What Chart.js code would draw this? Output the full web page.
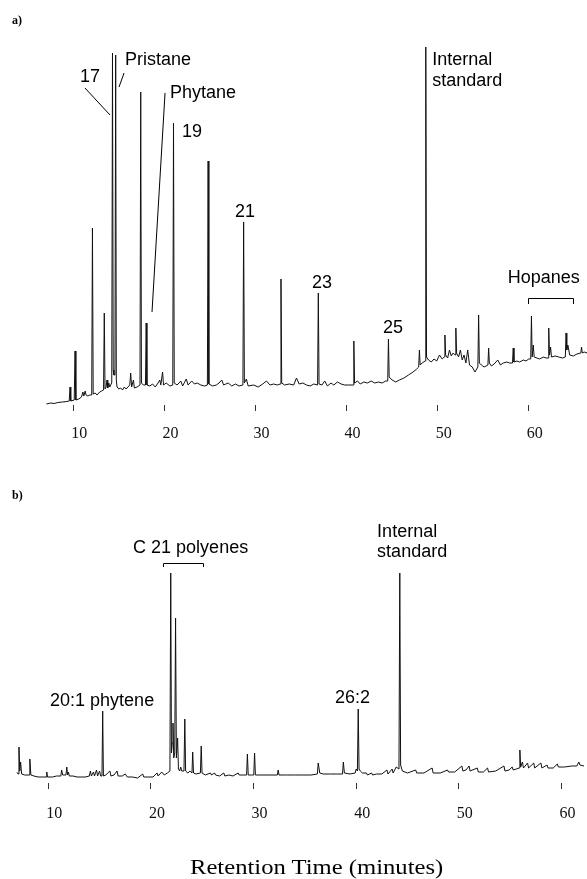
<!DOCTYPE html>
<html>
<head>
<meta charset="utf-8">
<script src="https://cdn.jsdelivr.net/npm/chart.js@4/dist/chart.umd.min.js"></script>
<style>
  body { margin: 0; background: #fff; }
  #wrap { position: relative; width: 587px; height: 879px; overflow: hidden; }
  canvas { position: absolute; left: 0; }
  #chartA { top: 0; }
  #chartB { top: 450px; }
  .tag { position: absolute; left: 12px; font: bold 12px "Liberation Serif", "Times New Roman", serif; }
  #xtitle { position: absolute; left: 190px; top: 856px; font: 22px "Liberation Serif", "Times New Roman", serif;
            line-height: 22px; white-space: nowrap; transform: scaleX(1.12); transform-origin: left top; }
</style>
</head>
<body>
<div id="wrap">
  <canvas id="chartA" width="587" height="450"></canvas>
  <canvas id="chartB" width="587" height="429"></canvas>
  <div class="tag" style="top:13px">a)</div>
  <div class="tag" style="top:488px">b)</div>
  <div id="xtitle">Retention Time (minutes)</div>
</div>
<script>
// tick labels, retention time in minutes
const tickMinutes = [10, 20, 30, 40, 50, 60];

// panel a: detector signal (arbitrary units) vs retention time
const traceA = [
  [7.05, 1], [7.5, 2], [7.9, 1.5], [8.3, 2.5], [8.8, 3], [9.3, 3.5], [9.55, 4], [9.64, 18], [9.72, 4],
  [10.1, 5], [10.19, 54], [10.28, 5], [10.6, 6], [10.9, 8], [11.05, 13], [11.15, 9], [11.3, 14], [11.4, 10],
  [11.6, 9], [11.8, 10], [12.02, 10], [12.1, 177], [12.18, 11], [12.4, 12], [12.6, 10], [12.9, 13], [13.1, 14],
  [13.32, 15], [13.4, 92], [13.48, 16], [13.6, 18], [13.7, 25], [13.78, 17], [13.9, 22], [14.0, 18], [14.1, 20],
  [14.22, 22], [14.3, 352], [14.38, 35], [14.45, 30], [14.57, 30], [14.65, 350], [14.72, 25], [14.8, 18],
  [15.0, 16], [15.2, 17], [15.4, 15], [15.6, 18], [15.8, 16], [16.0, 18], [16.2, 20], [16.3, 32], [16.4, 18],
  [16.6, 25], [16.7, 17], [17.0, 18], [17.32, 20], [17.4, 313], [17.48, 22], [17.7, 20], [17.92, 20], [18.0, 82],
  [18.08, 20], [18.4, 19], [18.7, 21], [19.0, 18], [19.3, 22], [19.5, 25], [19.6, 20], [19.8, 33], [19.9, 20],
  [20.2, 22], [20.6, 19], [20.92, 20], [21.0, 282], [21.08, 22], [21.4, 20], [21.8, 24], [22.0, 19], [22.4, 26],
  [22.6, 20], [23.0, 24], [23.3, 21], [23.6, 22], [24.0, 20], [24.4, 19], [24.72, 20], [24.8, 244], [24.88, 21],
  [25.3, 19], [25.7, 20], [26.0, 22], [26.3, 25], [26.5, 20], [27.0, 22], [27.4, 19], [27.8, 21], [28.2, 19],
  [28.62, 20], [28.7, 183], [28.78, 22], [29.0, 26], [29.2, 19], [29.8, 20], [30.3, 18], [30.8, 21], [31.2, 24],
  [31.6, 20], [32.0, 21], [32.4, 20], [32.72, 21], [32.8, 126], [32.88, 22], [33.2, 20], [33.7, 21], [34.2, 20],
  [34.5, 27], [34.8, 21], [35.2, 22], [35.6, 20], [36.0, 19], [36.4, 21], [36.82, 20], [36.9, 112], [36.98, 21],
  [37.3, 20], [37.6, 24], [37.9, 19], [38.3, 22], [38.6, 20], [39.0, 23], [39.4, 21], [39.8, 20], [40.2, 20],
  [40.72, 20], [40.8, 64], [40.88, 22], [41.2, 24], [41.5, 21], [41.9, 23], [42.3, 22], [42.7, 24], [43.1, 22],
  [43.5, 23], [43.9, 22], [44.3, 24], [44.52, 24], [44.6, 66], [44.68, 28], [45.0, 25], [45.4, 23], [45.8, 25],
  [46.3, 27], [46.8, 30], [47.3, 33], [47.7, 36], [47.92, 38], [48.0, 55], [48.08, 40], [48.3, 42], [48.62, 44],
  [48.7, 358], [48.78, 48], [49.0, 45], [49.3, 43], [49.6, 46], [49.9, 44], [50.2, 50], [50.5, 46], [50.72, 48],
  [50.8, 70], [50.88, 50], [51.1, 47], [51.3, 55], [51.5, 49], [51.7, 52], [51.92, 50], [52.0, 77], [52.08, 52],
  [52.3, 48], [52.5, 55], [52.7, 45], [52.9, 50], [53.1, 42], [53.3, 55], [53.5, 40], [53.8, 38], [54.1, 33],
  [54.42, 38], [54.5, 90], [54.58, 42], [54.8, 40], [55.1, 38], [55.52, 40], [55.6, 57], [55.68, 42], [55.9, 39],
  [56.2, 41], [56.6, 45], [56.9, 40], [57.2, 42], [57.6, 43], [57.9, 42], [58.22, 42], [58.3, 57], [58.38, 43],
  [58.7, 44], [59.0, 43], [59.4, 45], [59.7, 44], [60.0, 46], [60.22, 46], [60.3, 89], [60.38, 48], [60.5, 60],
  [60.6, 48], [60.9, 47], [61.2, 46], [61.6, 48], [61.9, 47], [62.12, 47], [62.2, 77], [62.28, 50], [62.4, 58],
  [62.5, 48], [62.9, 49], [63.3, 48], [63.7, 47], [64.02, 48], [64.1, 72], [64.18, 55], [64.3, 60], [64.5, 50],
  [64.9, 49], [65.3, 51], [65.72, 52], [65.8, 58], [65.88, 52], [66.1, 53], [66.4, 52]
];

// panel b
const traceB = [
  [6.9, 11], [7.06, 9], [7.14, 36], [7.22, 12], [7.3, 21], [7.4, 9], [7.7, 8], [8.12, 8], [8.2, 24], [8.3, 8],
  [8.6, 7], [9.0, 6], [9.4, 6], [9.78, 6], [9.85, 11], [9.92, 6], [10.4, 6], [10.8, 7], [11.22, 7], [11.3, 13],
  [11.4, 8], [11.72, 8], [11.8, 16], [11.88, 8], [11.95, 11], [12.05, 7], [12.4, 7], [12.8, 6], [13.2, 6],
  [13.6, 6], [14.0, 7], [14.1, 12], [14.2, 7], [14.4, 11], [14.5, 7], [14.7, 13], [14.8, 7], [15.0, 12],
  [15.1, 7], [15.23, 7], [15.3, 72], [15.37, 7], [15.6, 8], [16.0, 12], [16.1, 7], [16.4, 8], [16.7, 12],
  [16.8, 7], [17.2, 7], [17.5, 9], [17.7, 6], [18.2, 6], [18.7, 5], [19.2, 9], [19.3, 6], [19.8, 6],
  [20.2, 6], [20.6, 10], [20.7, 7], [21.05, 11], [21.3, 8], [21.6, 10], [21.85, 12], [21.93, 210], [22.0, 30],
  [22.08, 40], [22.15, 60], [22.22, 25], [22.32, 30], [22.4, 165], [22.48, 25], [22.6, 45], [22.68, 14],
  [22.8, 12], [22.9, 16], [23.0, 12], [23.22, 12], [23.3, 64], [23.38, 12], [23.6, 10], [23.8, 12], [24.0, 10],
  [24.07, 31], [24.15, 10], [24.4, 9], [24.82, 10], [24.9, 37], [24.98, 10], [25.3, 8], [25.8, 10], [25.9, 8],
  [26.2, 10], [26.3, 8], [26.7, 7], [27.1, 10], [27.2, 7], [27.6, 8], [28.0, 7], [28.5, 10], [28.6, 8],
  [29.32, 8], [29.4, 29], [29.48, 8], [29.8, 8], [30.02, 8], [30.1, 30], [30.18, 8], [30.8, 8], [31.5, 8],
  [32.32, 8], [32.4, 13], [32.48, 8], [33.2, 8], [34.0, 8], [34.8, 8], [35.6, 8], [36.22, 9], [36.3, 20],
  [36.45, 10], [36.8, 9], [37.5, 9], [38.2, 9], [38.67, 9], [38.75, 21], [38.85, 10], [39.4, 9], [39.9, 10],
  [40.0, 14], [40.12, 12], [40.2, 74], [40.28, 14], [40.4, 12], [40.6, 10], [41.0, 10], [41.1, 8], [41.5, 10],
  [41.6, 8], [42.0, 9], [42.5, 9], [43.0, 13], [43.1, 9], [43.5, 14], [43.6, 10], [43.9, 16], [44.17, 14],
  [44.25, 210], [44.33, 18], [44.5, 12], [45.0, 10], [45.8, 13], [45.9, 10], [46.6, 10], [47.4, 15], [47.5, 10],
  [48.2, 10], [48.9, 13], [49.0, 11], [49.6, 11], [50.3, 17], [50.4, 12], [50.7, 13], [51.0, 17], [51.1, 12],
  [51.8, 15], [51.9, 11], [52.4, 11], [52.8, 15], [52.9, 11], [53.6, 12], [54.4, 17], [54.5, 12], [54.9, 13],
  [55.2, 16], [55.3, 13], [55.6, 14], [55.88, 15], [55.95, 33], [56.03, 16], [56.2, 21], [56.3, 15], [56.7, 20],
  [56.8, 15], [57.3, 20], [57.4, 15], [58.0, 20], [58.1, 15], [58.6, 18], [58.7, 15], [59.2, 15], [59.6, 19],
  [59.7, 16], [60.3, 16], [61.0, 17], [61.5, 17], [61.7, 21], [61.8, 18], [62.2, 17]
];

// peak labels and leader lines, anchored in data units
const notesA = [
  { text: '17', t: 11.83, v: 323, align: 'center' },
  { text: 'Pristane', t: 15.68, v: 340 },
  { text: 'Phytane', t: 20.61, v: 307 },
  { text: '19', t: 21.93, v: 268 },
  { text: '21', t: 27.74, v: 188 },
  { text: '23', t: 36.2, v: 117 },
  { text: '25', t: 44.0, v: 72 },
  { text: 'Internal', t: 49.4, v: 340 },
  { text: 'standard', t: 49.4, v: 319 },
  { text: 'Hopanes', t: 57.7, v: 122 }
];
const leadersA = [
  [11.28, 317, 14.03, 290],
  [15.57, 332, 15.02, 318],
  [20.07, 312, 18.64, 93]
];
const bracketsA = [[59.91, 64.85, 107, 101]];

const notesB = [
  { text: 'C 21 polyenes', t: 18.26, v: 230 },
  { text: '20:1 phytene', t: 10.17, v: 77 },
  { text: 'Internal', t: 42.04, v: 246 },
  { text: 'standard', t: 42.04, v: 226 },
  { text: '26:2', t: 37.94, v: 80 }
];
const leadersB = [];
const bracketsB = [[21.15, 25.11, 220, 216]];

const notesPlugin = {
  id: 'notes',
  afterDatasetsDraw(chart, args, opts) {
    const {ctx} = chart;
    const x = chart.scales.x, y = chart.scales.y;
    ctx.save();
    ctx.fillStyle = '#000';
    ctx.strokeStyle = '#000';
    ctx.lineWidth = 1;
    ctx.font = '18px "Liberation Sans", Arial, sans-serif';
    ctx.textBaseline = 'alphabetic';
    opts.labels.forEach(l => {
      ctx.textAlign = l.align || 'left';
      ctx.fillText(l.text, x.getPixelForValue(l.t), y.getPixelForValue(l.v));
    });
    opts.leaders.forEach(s => {
      ctx.beginPath();
      ctx.moveTo(x.getPixelForValue(s[0]), y.getPixelForValue(s[1]));
      ctx.lineTo(x.getPixelForValue(s[2]), y.getPixelForValue(s[3]));
      ctx.stroke();
    });
    opts.brackets.forEach(b => {
      const x1 = Math.round(x.getPixelForValue(b[0])) + 0.5;
      const x2 = Math.round(x.getPixelForValue(b[1])) + 0.5;
      const yt = Math.round(y.getPixelForValue(b[2])) + 0.5;
      const yb = y.getPixelForValue(b[3]);
      ctx.beginPath();
      ctx.moveTo(x1, yb); ctx.lineTo(x1, yt); ctx.lineTo(x2, yt); ctx.lineTo(x2, yb);
      ctx.stroke();
    });
    ctx.restore();
  }
};

function createChromatogram(canvas, trace, opts) {
  return new Chart(canvas, {
    type: 'line',
    data: {
      datasets: [{
        data: trace.map(p => ({x: p[0], y: p[1]})),
        borderColor: '#111',
        borderWidth: 1,
        pointRadius: 0,
        tension: 0,
        fill: false
      }]
    },
    options: {
      responsive: false,
      animation: false,
      parsing: false,
      layout: { padding: opts.padding },
      plugins: {
        legend: { display: false },
        tooltip: { enabled: false },
        notes: { labels: opts.labels, leaders: opts.leaders, brackets: opts.brackets }
      },
      scales: {
        x: {
          type: 'linear',
          min: opts.xMin,
          max: opts.xMax,
          afterBuildTicks: s => { s.ticks = tickMinutes.map(v => ({value: v})); },
          afterFit: s => { s.height = opts.axisHeight; },
          border: { display: false },
          grid: { drawOnChartArea: false, drawTicks: true, tickLength: 6, color: '#333', tickWidth: 1 },
          ticks: {
            color: '#111',
            padding: opts.tickPad,
            labelOffset: 6,
            maxRotation: 0,
            font: { family: '"Liberation Serif", "Times New Roman", serif', size: 16 }
          }
        },
        y: { display: false, min: 0, max: opts.yMax }
      }
    },
    plugins: [notesPlugin]
  });
}

createChromatogram(document.getElementById('chartA'), traceA, {
  xMin: 7, xMax: 66.4, yMax: 365, axisHeight: 45, tickPad: 13,
  padding: { top: 40, left: 46, right: 0, bottom: 0 },
  labels: notesA, leaders: leadersA, brackets: bracketsA
});

createChromatogram(document.getElementById('chartB'), traceB, {
  xMin: 6.9, xMax: 62.2, yMax: 263, axisHeight: 96, tickPad: 15,
  padding: { top: 70, left: 16.5, right: 3, bottom: 0 },
  labels: notesB, leaders: leadersB, brackets: bracketsB
});
</script>
</body>
</html>
